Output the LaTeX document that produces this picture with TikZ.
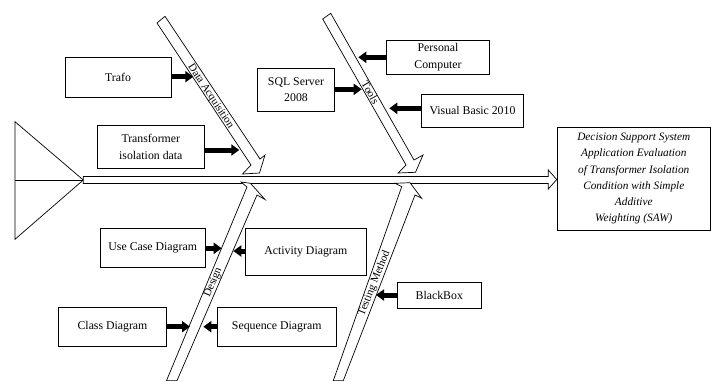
\documentclass[tikz,border=0pt]{standalone}
\usepackage{fontspec}
\setmainfont{Liberation Serif}
\usetikzlibrary{arrows.meta}
\begin{document}
\begin{tikzpicture}[x=1pt,y=-1pt,
  box/.style={draw, line width=0.7pt, inner sep=0pt, align=center, font=\fontsize{11.8}{16.5}\selectfont},
  bone/.style={draw, line width=0.7pt, fill=white, line join=miter},
  blk/.style={line width=5pt, -{Triangle[length=8pt,width=11pt]}},
  lbl/.style={inner sep=0pt, font=\fontsize{11}{12}\selectfont}]
\useasboundingbox (0,0) rectangle (711,381);
% head triangle
\draw[line width=0.7pt] (15,121.7) -- (83.3,180) -- (15,239.3) -- cycle;
\draw[line width=0.7pt] (15,180) -- (83.3,180);
% result box
\node[box, font=\fontsize{11.3}{16.2}\selectfont\itshape, minimum width=153.5pt, minimum height=102.7pt] (dec) at (633.8,178.7)
  {Decision Support System\\Application Evaluation\\of Transformer Isolation\\Condition with Simple\\Additive\\Weighting (SAW)};
% spine
\draw[bone] (83.3,176.5) -- (548.3,176.5) -- (548.3,170) -- (dec.west |- 0,179.5) -- (548.3,189) -- (548.3,183.5) -- (83.3,183.5) -- cycle;
% bones
\draw[bone] (157,23) -- (251,165) -- (242.5,174) -- (259.5,173) -- (265,155) -- (260,159) -- (165,16.3) -- cycle;
\draw[bone] (322.7,19) -- (406,165) -- (398,173) -- (415.5,172.3) -- (423,155) -- (414,160) -- (330.7,13.3) -- cycle;
\draw[bone] (166.5,380.6) -- (247,187) -- (241,182) -- (250.5,183.3) -- (265,199.5) -- (257,195) -- (177,380.6) -- cycle;
\draw[bone] (333.3,380.6) -- (401.7,186.7) -- (395,183.3) -- (410,182.7) -- (421.7,198.3) -- (415,195) -- (343.3,380.6) -- cycle;
% bone labels
\node[lbl, rotate=-56.5] (lDA) at (210.5,96.5) {Data Acquisition};
\node[lbl, rotate=-60.2] (lTo) at (370.5,92.5) {Tools};
\node[lbl, rotate=67.5] (lDe) at (213.3,282.5) {Design};
\node[lbl, rotate=68] (lTM) at (374.4,283.3) {Testing Method};
% boxes
\node[box, minimum width=106pt, minimum height=39.3pt] (trafo) at (118,77.3) {Trafo};
\node[box, minimum width=106.3pt, minimum height=43pt] (tid) at (150.8,146.8) {Transformer\\isolation data};
\node[box, minimum width=76.6pt, minimum height=42.7pt] (sql) at (296,89.7) {SQL Server\\2008};
\node[box, minimum width=102.6pt, minimum height=34pt] (pc) at (438,57) {Personal\\Computer};
\node[box, minimum width=101.6pt, minimum height=33pt] (vb) at (472.5,110.8) {Visual Basic 2010};
\node[box, minimum width=105.3pt, minimum height=39pt] (uc) at (152.7,247.8) {Use Case Diagram};
\node[box, minimum width=121.7pt, minimum height=46.7pt] (act) at (305.8,251.7) {Activity Diagram};
\node[box, minimum width=108.4pt, minimum height=38.3pt] (cls) at (112.5,326.8) {Class Diagram};
\node[box, minimum width=118.7pt, minimum height=38.3pt] (seq) at (276.7,326.8) {Sequence Diagram};
\node[box, minimum width=84pt, minimum height=25.6pt] (bb) at (439.3,295.5) {BlackBox};
% arrow tips on bones
\coordinate (t1) at (193.3,76.7);
\coordinate (t2) at (239.3,150);
\coordinate (t3) at (361.7,89.3);
\coordinate (t4) at (358.3,57.3);
\coordinate (t5) at (389.3,108.3);
\coordinate (t6) at (221.7,248.3);
\coordinate (t7) at (233.3,251);
\coordinate (t8) at (190,326.7);
\coordinate (t9) at (203.3,326.7);
\coordinate (t10) at (376,295);
\draw[blk] (trafo.east |- t1) -- (t1);
\draw[blk] (tid.east |- t2) -- (t2);
\draw[blk] (sql.east |- t3) -- (t3);
\draw[blk] (pc.west |- t4) -- (t4);
\draw[blk] (vb.west |- t5) -- (t5);
\draw[blk] (uc.east |- t6) -- (t6);
\draw[blk] (act.west |- t7) -- (t7);
\draw[blk] (cls.east |- t8) -- (t8);
\draw[blk] (seq.west |- t9) -- (t9);
\draw[blk] (bb.west |- t10) -- (t10);
\end{tikzpicture}
\end{document}
